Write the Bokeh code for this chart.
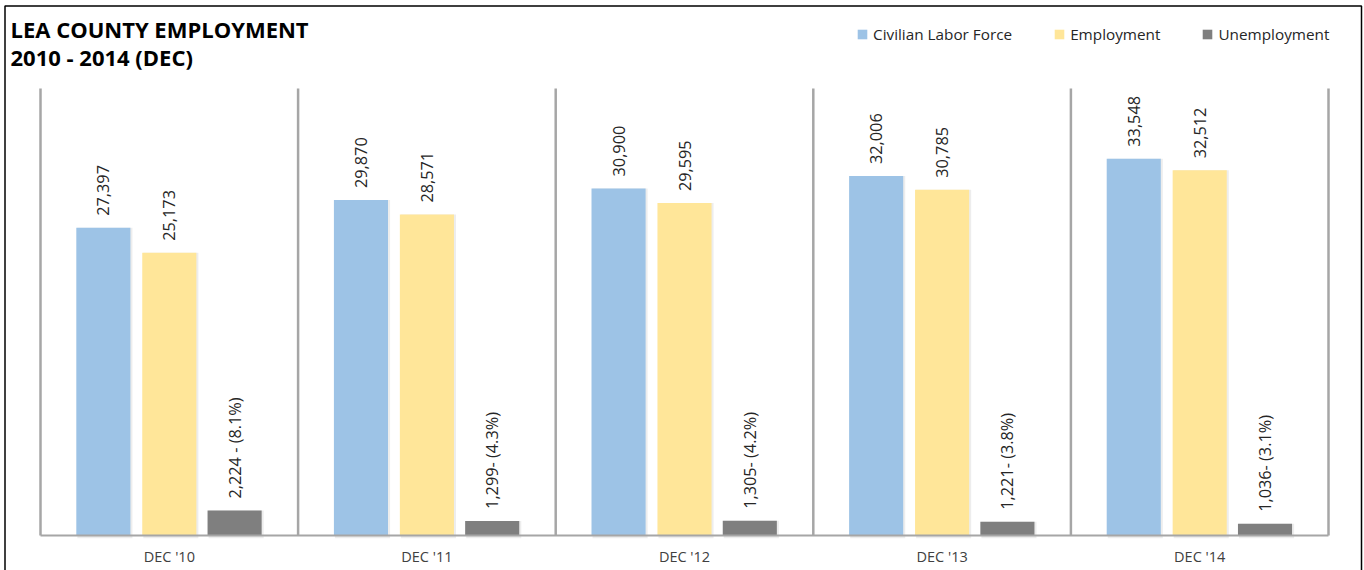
from bokeh.core.properties import value
from bokeh.embed import file_html
from bokeh.models import (BoxAnnotation, ColumnDataSource, Label, Legend,
                          LegendItem, Range1d)
from bokeh.plotting import figure
from bokeh.resources import INLINE
from bokeh.transform import dodge
from math import pi

# December readings, Lea County labor statistics
periods = ["DEC '10", "DEC '11", "DEC '12", "DEC '13", "DEC '14"]
labor_force = [27397, 29870, 30900, 32006, 33548]
employment = [25173, 28571, 29595, 30785, 32512]
unemployment = [2224, 1299, 1305, 1221, 1036]
unemployment_rate = [8.1, 4.3, 4.2, 3.8, 3.1]
rate_separators = [" - ", "- ", "- ", "- ", "- "]

series_names = ["Civilian Labor Force", "Employment", "Unemployment"]
series_colors = ["#9DC3E6", "#FFE699", "#7F7F7F"]

FONT = "Open Sans"
W, H = 1364, 570

# plot area inside the canvas (pixels)
AREA_LEFT, AREA_RIGHT, AREA_TOP, AREA_BOTTOM = 40, 1328, 88, 535
Y_MAX = 39800

n = len(periods)
x_per_px = n / (AREA_RIGHT - AREA_LEFT)
y_per_px = Y_MAX / (AREA_BOTTOM - AREA_TOP)

source = ColumnDataSource(dict(
    pos=[i + 0.5 for i in range(n)],
    period=periods,
    labor=labor_force,
    employ=employment,
    unemp=unemployment,
    labor_text=[f"{v:,}" for v in labor_force],
    employ_text=[f"{v:,}" for v in employment],
    unemp_text=[f"{v:,}{s}({r}%)" for v, s, r in
                zip(unemployment, rate_separators, unemployment_rate)],
))

p = figure(
    width=W, height=H,
    x_range=Range1d(-AREA_LEFT * x_per_px, n + (W - AREA_RIGHT) * x_per_px),
    y_range=Range1d(-(H - AREA_BOTTOM) * y_per_px, AREA_BOTTOM * y_per_px),
    output_backend="svg", toolbar_location=None,
    min_border=0, x_axis_type=None, y_axis_type=None,
)
p.background_fill_color = "white"
p.border_fill_color = "white"
p.outline_line_color = None
p.grid.visible = False

fields = ["labor", "employ", "unemp"]
text_fields = ["labor_text", "employ_text", "unemp_text"]
offsets = [-0.256, 0.0, 0.2535]

bar_renderers = []
for field, tfield, off, color in zip(fields, text_fields, offsets, series_colors):
    # soft drop shadow behind each bar
    p.vbar(x=dodge("pos", off + 0.006), top=field, bottom=-250,
           width=0.214, source=source, fill_color="black", fill_alpha=0.07,
           line_color=None)
    r = p.vbar(x=dodge("pos", off), top=field, width=0.21,
               source=source, fill_color=color, line_color=None)
    bar_renderers.append(r)
    p.text(x=dodge("pos", off), y=field, text=tfield,
           angle=pi / 2, text_align="left", text_baseline="middle", y_offset=-12,
           text_font=value(FONT), text_font_size="16.3px", text_color="#262626",
           source=source)

# separators between the December groups and the base line
bounds = list(range(n + 1))
p.segment(x0=bounds, y0=[0] * (n + 1), x1=bounds, y1=[Y_MAX] * (n + 1),
          line_color="#A6A6A6", line_width=2.5)
p.segment(x0=[0], y0=[0], x1=[n], y1=[0], line_color="#A6A6A6", line_width=2)

# category labels under each group
p.text(x="pos", y=0, text="period", source=source, y_offset=21,
       text_align="center", text_baseline="middle",
       text_font=value(FONT), text_font_size="14.5px", text_color="#404040")

legend = Legend(
    items=[LegendItem(label=nm, renderers=[r]) for nm, r in zip(series_names, bar_renderers)],
    orientation="horizontal", location=(856, H - 24 - 20),
    padding=0, margin=0, spacing=41, label_standoff=5,
    glyph_width=12, glyph_height=12,
    label_text_font=FONT, label_text_font_size="15.3px", label_text_color="#262626",
    border_line_color=None, background_fill_alpha=0,
)
p.add_layout(legend)

for text, cy in [("LEA COUNTY EMPLOYMENT", 28), ("2010 - 2014 (DEC)", 56)]:
    p.add_layout(Label(x=10, y=H - cy, x_units="screen", y_units="screen", text=text,
                       text_font=FONT, text_font_style="bold", text_font_size="22px",
                       text_baseline="middle", text_color="black"))

# frame around the whole chart
p.add_layout(BoxAnnotation(left=4.5, right=1361, top=H - 5.5, bottom=-10,
                           left_units="screen", right_units="screen",
                           top_units="screen", bottom_units="screen",
                           fill_alpha=0, line_color="black", line_alpha=1.0,
                           line_width=1.5, level="overlay"))

open("out.html", "w").write(file_html(p, INLINE))
